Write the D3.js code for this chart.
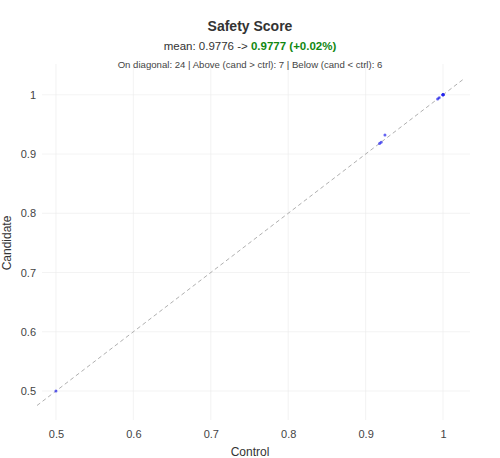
<!DOCTYPE html>
<html><head><meta charset="utf-8">
<script src="https://cdn.jsdelivr.net/npm/d3@7"></script>
<style>body{margin:0;background:#fff;font-family:"Liberation Sans",Arial,sans-serif}</style>
</head><body>
<script>
var controlVals = [1, 1, 1, 1, 1, 0.995, 0.993, 0.92, 0.918, 0.925, 0.5];
var candidateVals = [1, 1, 1, 1, 1, 0.995, 0.993, 0.92, 0.918, 0.932, 0.5];
var xTicks = [0.5, 0.6, 0.7, 0.8, 0.9, 1];
var yTicks = [0.5, 0.6, 0.7, 0.8, 0.9, 1];

var W = 500, H = 458;
var svg = d3.select("body").append("svg").attr("width", W).attr("height", H);
var x = d3.scaleLinear().domain([0.4755, 1.0258]).range([37, 463]);
var y = d3.scaleLinear().domain([0.473, 1.025]).range([407, 80]);

var grid = svg.append("g");
grid.selectAll("line.v").data(xTicks).enter().append("line")
	.attr("x1", function(d) { return x(d); }).attr("x2", function(d) { return x(d); })
	.attr("y1", 64).attr("y2", 420).attr("stroke", "#ebebeb").attr("stroke-width", 0.6);
grid.selectAll("line.h").data(yTicks).enter().append("line")
	.attr("y1", function(d) { return y(d); }).attr("y2", function(d) { return y(d); })
	.attr("x1", 42).attr("x2", 470).attr("stroke", "#ebebeb").attr("stroke-width", 0.6);

var xAxis = svg.append("g").attr("transform", "translate(0,420)")
	.call(d3.axisBottom(x).tickValues(xTicks).tickFormat(d3.format("")).tickSize(0).tickPadding(10));
var yAxis = svg.append("g").attr("transform", "translate(42,0)")
	.call(d3.axisLeft(y).tickValues(yTicks).tickFormat(d3.format("")).tickSize(0).tickPadding(6));
[xAxis, yAxis].forEach(function(a) {
	a.select(".domain").remove();
	a.selectAll("text").attr("fill", "#444").style("font-size", "11px").style("font-family", "Liberation Sans, Arial");
});

svg.append("line")
	.attr("x1", x(0.4755)).attr("y1", y(0.4755)).attr("x2", x(1.0258)).attr("y2", y(1.0258))
	.attr("stroke", "#b0b0b0").attr("stroke-dasharray", "4,3").attr("stroke-width", 1);

svg.selectAll("circle").data(controlVals).enter().append("circle")
	.attr("cx", function(d) { return x(d); })
	.attr("cy", function(d, i) { return y(candidateVals[i]); })
	.attr("r", 1.5).attr("fill", "#2222ee").attr("opacity", 0.7);

svg.append("text").attr("x", 250).attr("y", 31).attr("text-anchor", "middle")
	.style("font-size", "14px").style("font-weight", "bold").attr("fill", "#333").text("Safety Score");
var sub = svg.append("text").attr("x", 250).attr("y", 50).attr("text-anchor", "middle")
	.style("font-size", "11.5px").attr("fill", "#333");
sub.append("tspan").text("mean: 0.9776 -> ");
sub.append("tspan").attr("fill", "#118811").style("font-weight", "bold").text("0.9777 (+0.02%)");
svg.append("text").attr("x", 250).attr("y", 68).attr("text-anchor", "middle")
	.style("font-size", "9.6px").attr("fill", "#444")
	.text("On diagonal: 24 | Above (cand > ctrl): 7 | Below (cand < ctrl): 6");

svg.append("text").attr("x", 250).attr("y", 456).attr("text-anchor", "middle")
	.style("font-size", "12px").attr("fill", "#333").text("Control");
svg.append("text").attr("transform", "translate(11,243) rotate(-90)").attr("text-anchor", "middle")
	.style("font-size", "12px").attr("fill", "#333").text("Candidate");
</script>
</body></html>
